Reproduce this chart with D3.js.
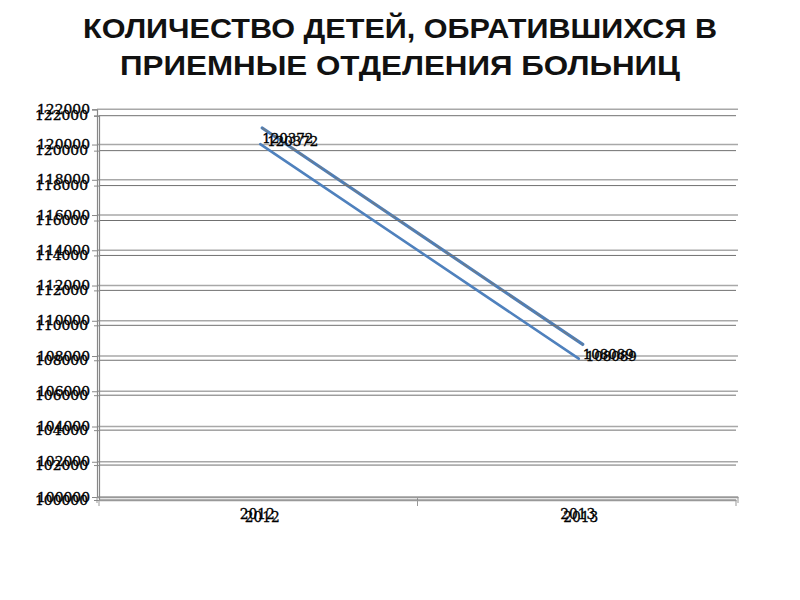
<!DOCTYPE html>
<html><head><meta charset="utf-8">
<script src="https://cdn.jsdelivr.net/npm/d3@7"></script>
<style>body{margin:0;background:#fff}svg{display:block}</style>
</head><body>
<svg id="c" width="800" height="600"></svg>
<script>
const titleLines = ["КОЛИЧЕСТВО ДЕТЕЙ, ОБРАТИВШИХСЯ В", "ПРИЕМНЫЕ ОТДЕЛЕНИЯ БОЛЬНИЦ"];
const categories = ["2012", "2013"];
const seriesA = [120372, 108089];
const seriesB = [120372, 108089];
const yTicks = [100000, 102000, 104000, 106000, 108000, 110000, 112000, 114000, 116000, 118000, 120000, 122000];
const yDomain = [100000, 122000];

const svg = d3.select("#c");
svg.append("rect").attr("width", 800).attr("height", 600).attr("fill", "#fff");

const titleLen = [634, 560];
svg.selectAll("text.title").data(titleLines).join("text")
  .attr("class", "title")
  .attr("x", 400).attr("y", (d, i) => 38 + i * 37)
  .attr("text-anchor", "middle")
  .attr("font-family", "Liberation Sans, Arial, sans-serif")
  .attr("font-weight", "bold").attr("font-size", 28.5)
  .attr("textLength", (d, i) => titleLen[i]).attr("lengthAdjust", "spacingAndGlyphs")
  .attr("fill", "#111").text(d => d);

const font = "DejaVu Serif, serif";

function layer(cfg, data, lineStyle) {
  const g = svg.append("g");
  const x = d3.scalePoint().domain(categories).range([cfg.left, cfg.right]).padding(0.5);
  const y = d3.scaleLinear().domain(yDomain).range([cfg.bottom, cfg.top]);

  // gridlines
  g.append("g").selectAll("line").data(yTicks).join("line")
    .attr("x1", cfg.left).attr("x2", cfg.right)
    .attr("y1", d => y(d)).attr("y2", d => y(d))
    .attr("stroke", cfg.grid).attr("stroke-width", cfg.gridW);

  // y axis
  const ya = g.append("g").attr("transform", `translate(${cfg.left},0)`)
    .call(d3.axisLeft(y).tickValues(yTicks).tickFormat(d3.format("d")).tickSize(5).tickPadding(2 + cfg.labelShift));
  ya.select(".domain").attr("stroke", "#888").attr("stroke-width", 1.2);
  ya.selectAll(".tick line").attr("stroke", "#888");
  ya.selectAll(".tick text").attr("font-family", font).attr("font-size", 13).attr("fill", "#000")
    .attr("stroke", "#000").attr("stroke-width", 0.35)
    .attr("textLength", 53).attr("lengthAdjust", "spacingAndGlyphs");

  // x axis
  const xb = d3.scaleBand().domain(categories).range([cfg.left, cfg.right]);
  const xa = g.append("g").attr("transform", `translate(0,${cfg.bottom})`)
    .call(d3.axisBottom(xb).tickSize(0).tickPadding(12));
  xa.select(".domain").attr("stroke", "#999").attr("stroke-width", 1.5);
  xa.selectAll(".tick text").attr("font-family", font).attr("font-size", 14).attr("fill", "#000")
    .attr("stroke", "#000").attr("stroke-width", 0.3)
    .attr("dx", cfg.catShift).attr("textLength", 35).attr("lengthAdjust", "spacingAndGlyphs");
  g.append("g").selectAll("line").data(categories.concat(["end"])).join("line")
    .attr("x1", (d, i) => cfg.left + i * xb.step()).attr("x2", (d, i) => cfg.left + i * xb.step())
    .attr("y1", cfg.bottom).attr("y2", cfg.bottom + 6)
    .attr("stroke", "#999");

  // line
  const line = d3.line().x((d, i) => x(categories[i])).y(d => y(d));
  const lg = g.append("g").attr("transform", `translate(${cfg.lineDx},${cfg.lineDy})`);
  lineStyle(lg, line(data));

  // data labels
  g.append("g").selectAll("text").data(data).join("text")
    .attr("x", (d, i) => x(categories[i]) + 5 + cfg.catShift)
    .attr("y", d => y(d) + cfg.labelDy)
    .attr("dominant-baseline", "middle")
    .attr("font-family", font).attr("font-size", 13).attr("fill", "#000")
    .attr("stroke", "#000").attr("stroke-width", 0.35)
    .attr("textLength", 51).attr("lengthAdjust", "spacingAndGlyphs")
    .text(d => d);
}

layer({left: 97, right: 738, top: 109.3, bottom: 497, grid: "#a8a8a8", gridW: 1.6,
       labelShift: 0, catShift: 0, lineDx: 5, lineDy: -10, labelDy: 1.5},
  seriesA,
  (g, p) => {
    g.append("path").attr("d", p).attr("fill", "none").attr("stroke", "#4f7fb8").attr("stroke-width", 3.2).attr("stroke-linecap", "round");
    g.append("path").attr("d", p).attr("fill", "none").attr("stroke", "#6f7b88").attr("stroke-width", 1.3).attr("stroke-dasharray", "7,4");
  });

layer({left: 99, right: 736, top: 115.7, bottom: 500, grid: "#707070", gridW: 1,
       labelShift: 4, catShift: 4, lineDx: 2, lineDy: 0, labelDy: -1.5},
  seriesB,
  (g, p) => {
    g.append("path").attr("d", p).attr("fill", "none").attr("stroke", "#4f81bd").attr("stroke-width", 2.6).attr("stroke-linecap", "round");
  });
</script>
</body></html>
